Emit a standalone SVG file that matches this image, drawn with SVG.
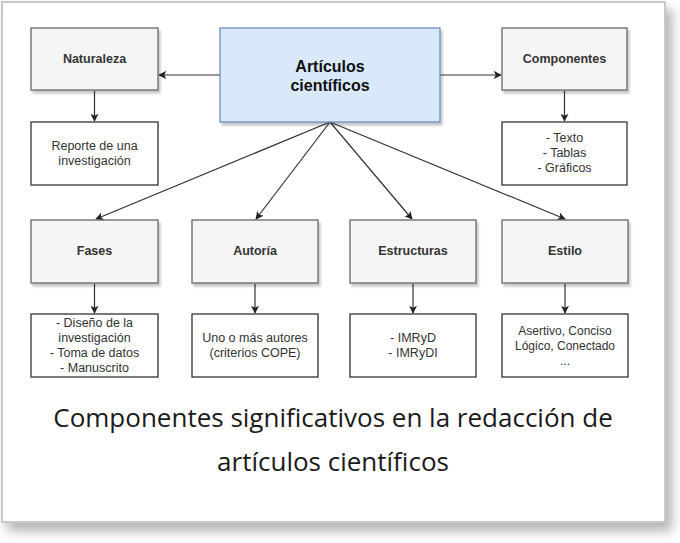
<svg xmlns="http://www.w3.org/2000/svg" width="680" height="543" viewBox="0 0 680 543">
<defs>
<filter id="cardShadow" x="-5%" y="-5%" width="115%" height="115%">
<feDropShadow dx="6" dy="8" stdDeviation="6" flood-color="#000" flood-opacity="0.3"/>
</filter>
<filter id="nodeShadow" x="-10%" y="-10%" width="125%" height="130%">
<feDropShadow dx="2" dy="3" stdDeviation="1" flood-color="#000" flood-opacity="0.22"/>
</filter>
<marker id="arr" viewBox="0 0 10 10" refX="9" refY="5" markerWidth="8" markerHeight="8" markerUnits="userSpaceOnUse" orient="auto">
<path d="M0,0 L10,5 L0,10 L2.5,5 Z" fill="#222"/>
</marker>
<style>
.gray{fill:#f5f5f5;stroke:#666;stroke-width:1.3}
.main{fill:#dae8fc;stroke:#6c8ebf;stroke-width:1.3}
.white{fill:#fff;stroke:#333;stroke-width:1.3}
.lbl{font-family:"Liberation Sans",Arial,sans-serif;font-size:12.5px;font-weight:bold;fill:#333;text-anchor:middle}
.txt{font-family:"Liberation Sans",Arial,sans-serif;font-size:12.5px;fill:#333;text-anchor:middle}
.title{font-family:"Liberation Sans",Arial,sans-serif;font-size:16px;font-weight:bold;fill:#111;text-anchor:middle}
.cap{font-family:"Open Sans",Lato,sans-serif;font-size:26px;fill:#1a1a1a;text-anchor:middle}
.c{fill:none;stroke:#333;stroke-width:1.2;marker-end:url(#arr)}
</style>
</defs>
<rect x="0" y="0" width="680" height="543" fill="#fff"/>
<rect x="2" y="2" width="663" height="520" fill="#fff" stroke="#c8c8c8" stroke-width="2" filter="url(#cardShadow)"/>

<g id="connectors">
<path class="c" d="M220,75 L159,75"/>
<path class="c" d="M440,75 L501,75"/>
<path class="c" d="M94.5,91 L94.5,121"/>
<path class="c" d="M564.5,91 L564.5,121"/>
<path class="c" d="M330,122 L96,219"/>
<path class="c" d="M330,122 L256,219"/>
<path class="c" d="M330,122 L412,219"/>
<path class="c" d="M330,122 L565,219"/>
<path class="c" d="M94.5,284 L94.5,313"/>
<path class="c" d="M255,284 L255,313"/>
<path class="c" d="M413,284 L413,313"/>
<path class="c" d="M565,284 L565,313"/>
</g>

<g id="articulos">
<rect class="main" x="220" y="28" width="220" height="94" filter="url(#nodeShadow)"/>
<text class="title" x="330" y="72">Artículos</text>
<text class="title" x="330" y="91">científicos</text>
</g>
<g id="naturaleza">
<rect class="gray" x="31" y="28" width="127" height="62" filter="url(#nodeShadow)"/>
<text class="lbl" x="94.5" y="63">Naturaleza</text>
</g>
<g id="reporte">
<rect class="white" x="31" y="122" width="127" height="63"/>
<text class="txt" x="94.5" y="150">Reporte de una</text>
<text class="txt" x="94.5" y="165">investigación</text>
</g>
<g id="componentes">
<rect class="gray" x="502" y="28" width="125" height="62" filter="url(#nodeShadow)"/>
<text class="lbl" x="564.5" y="63">Componentes</text>
</g>
<g id="componentes-lista">
<rect class="white" x="502" y="122" width="125" height="63"/>
<text class="txt" x="564.5" y="142">- Texto</text>
<text class="txt" x="564.5" y="157">- Tablas</text>
<text class="txt" x="564.5" y="172">- Gráficos</text>
</g>

<g id="fases">
<rect class="gray" x="31" y="220" width="127" height="63" filter="url(#nodeShadow)"/>
<text class="lbl" x="94.5" y="255">Fases</text>
</g>
<g id="fases-lista">
<rect class="white" x="31" y="314" width="127" height="63"/>
<text class="txt" x="94.5" y="327">- Diseño de la</text>
<text class="txt" x="94.5" y="342">investigación</text>
<text class="txt" x="94.5" y="357">- Toma de datos</text>
<text class="txt" x="94.5" y="372">- Manuscrito</text>
</g>
<g id="autoria">
<rect class="gray" x="192" y="220" width="126" height="63" filter="url(#nodeShadow)"/>
<text class="lbl" x="255" y="255">Autoría</text>
</g>
<g id="autoria-texto">
<rect class="white" x="192" y="314" width="126" height="63"/>
<text class="txt" x="255" y="342">Uno o más autores</text>
<text class="txt" x="255" y="357">(criterios COPE)</text>
</g>
<g id="estructuras">
<rect class="gray" x="350" y="220" width="126" height="63" filter="url(#nodeShadow)"/>
<text class="lbl" x="413" y="255">Estructuras</text>
</g>
<g id="estructuras-lista">
<rect class="white" x="350" y="314" width="126" height="63"/>
<text class="txt" x="413" y="342">- IMRyD</text>
<text class="txt" x="413" y="357">- IMRyDI</text>
</g>
<g id="estilo">
<rect class="gray" x="502" y="220" width="126" height="63" filter="url(#nodeShadow)"/>
<text class="lbl" x="565" y="255">Estilo</text>
</g>
<g id="estilo-lista">
<rect class="white" x="502" y="314" width="126" height="63"/>
<text class="txt" x="565" y="335" style="font-size:12px">Asertivo, Conciso</text>
<text class="txt" x="565" y="350" style="font-size:12px">Lógico, Conectado</text>
<text class="txt" x="565" y="365" style="font-size:12px">...</text>
</g>

<g id="caption">
<text class="cap" x="333" y="427">Componentes significativos en la redacción de</text>
<text class="cap" x="333" y="471">artículos científicos</text>
</g>
</svg>
